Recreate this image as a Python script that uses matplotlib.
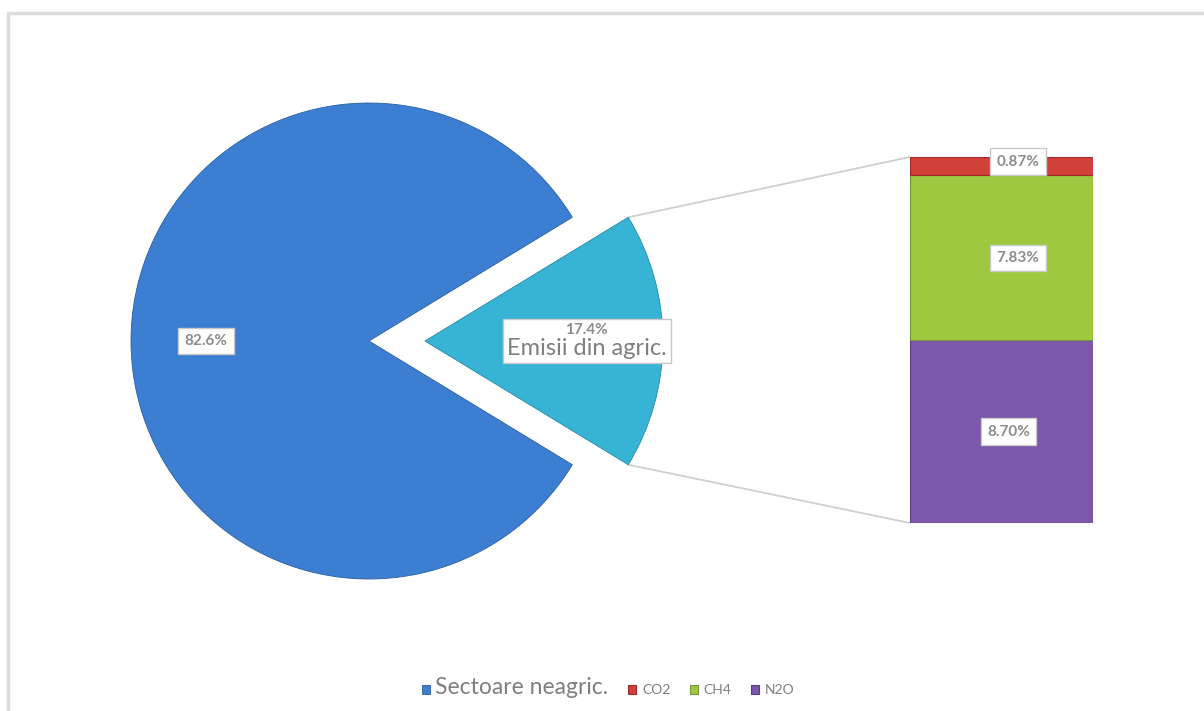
import matplotlib
matplotlib.use("Agg")
import matplotlib.pyplot as plt
from matplotlib.patches import Rectangle, ConnectionPatch
from matplotlib.offsetbox import TextArea, VPacker, AnnotationBbox
import numpy as np

# Date
pie_labels = ["Sectoare neagric.", "Emisii din agric."]
pie_values = [82.6, 17.4]
bar_labels = ["N2O", "CH4", "CO2"]
bar_values = [8.70, 7.83, 0.87]
bar_texts = ["8.70%", "7.83%", "0.87%"]

W, H = 1204, 711
plt.rcParams['font.family'] = ['Lato', 'DejaVu Sans']

fig = plt.figure(figsize=(W / 100, H / 100), dpi=100)
ax = fig.add_axes([0, 0, 1, 1])
ax.set_xlim(0, W)
ax.set_ylim(0, H)
ax.set_aspect('equal')
ax.axis('off')

# cadru gri
ax.add_patch(Rectangle((8, -20), W, H - 13 + 20, fill=False, ec='#dcdcdc', lw=2.5))

pie_colors = ['#3c7fd2', '#37b3d6']
radius = 238
center = (369, H - 341)
start = pie_values[1] / 100 * 360 / 2
# explode e in unitati de date aici
wedges, _ = ax.pie(pie_values, colors=pie_colors, startangle=start,
                   explode=[0, 0.235 * radius], center=center, radius=radius, frame=True,
                   wedgeprops=dict(edgecolor='#2a5fa0', linewidth=0.6))
wedges[1].set_edgecolor('#2789a8')
ax.set_xlim(0, W)
ax.set_ylim(0, H)
ax.axis('off')

label_kw = dict(color='#8c8c8c', fontsize=11, fontweight='bold', ha='center', va='center',
                bbox=dict(boxstyle='square,pad=0.4', fc='white', ec='#c8c8c8', lw=1))

# eticheta sectoare neagricole
ang = np.deg2rad((wedges[0].theta1 + wedges[0].theta2) / 2)
ax.text(center[0] + 0.685 * radius * np.cos(ang), center[1] + 0.685 * radius * np.sin(ang),
        f"{pie_values[0]}%", **label_kw)

# eticheta emisii din agricultura
w = wedges[1]
cx, cy = w.center
ang = np.deg2rad((w.theta1 + w.theta2) / 2)
ta1 = TextArea(f"{pie_values[1]}%", textprops=dict(color='#8c8c8c', fontsize=11, fontweight='bold'))
ta2 = TextArea(pie_labels[1], textprops=dict(color='#7f7f7f', fontsize=17))
pack = VPacker(children=[ta1, ta2], align='center', pad=0, sep=1)
ab = AnnotationBbox(pack, (cx + 0.68 * radius * np.cos(ang), cy + 0.68 * radius * np.sin(ang)),
                    frameon=True, pad=0.3, bboxprops=dict(fc='white', ec='#c8c8c8', lw=1))
ax.add_artist(ab)

# bara stivuita
bar_colors = ['#7c58ad', '#9dc83f', '#d2403a']
bar_edges = ['#5a3d82', '#76983a', '#9c2c27']
bx = fig.add_axes([910 / W, (H - 523) / H, 183 / W, 366 / H])
bottoms = np.concatenate([[0], np.cumsum(bar_values)[:-1]])
bars = bx.bar([0] * len(bar_values), bar_values, bottom=bottoms, width=1.0,
              color=bar_colors, edgecolor=bar_edges, linewidth=0.8)
bx.set_xlim(-0.5, 0.5)
bx.set_ylim(0, sum(bar_values))
bx.axis('off')
offsets = [-0.05, 0.0, 0.0]
for b, val, txt, dx in zip(bars, bar_values, bar_texts, offsets):
    y = b.get_y() + b.get_height() / 2
    if val < 2:
        y = b.get_y() + b.get_height() * 0.75
    bx.text(dx + 0.09, y, txt, **label_kw)

# linii de legatura
for ybar in [sum(bar_values), 0]:
    if ybar == 0:
        t = np.deg2rad(w.theta1)
    else:
        t = np.deg2rad(w.theta2)
    pt = (cx + radius * np.cos(t), cy + radius * np.sin(t))
    con = ConnectionPatch(xyA=pt, coordsA=ax.transData, xyB=(-0.5, ybar), coordsB=bx.transData,
                          color='#d0d0d0', lw=1.3, zorder=0)
    fig.add_artist(con)

# legenda
handles = [wedges[0]] + list(bars[::-1])
names = [pie_labels[0]] + bar_labels[::-1]
leg = fig.legend(handles, names, loc='center', bbox_to_anchor=(608 / W, 1 - 688 / H), ncol=4,
                 frameon=False, fontsize=10, handlelength=0.6, handleheight=0.6,
                 handletextpad=0.4, columnspacing=1.4, labelcolor='#7f7f7f')
leg.get_texts()[0].set_fontsize(16.5)

fig.savefig("out.png", dpi=100)
